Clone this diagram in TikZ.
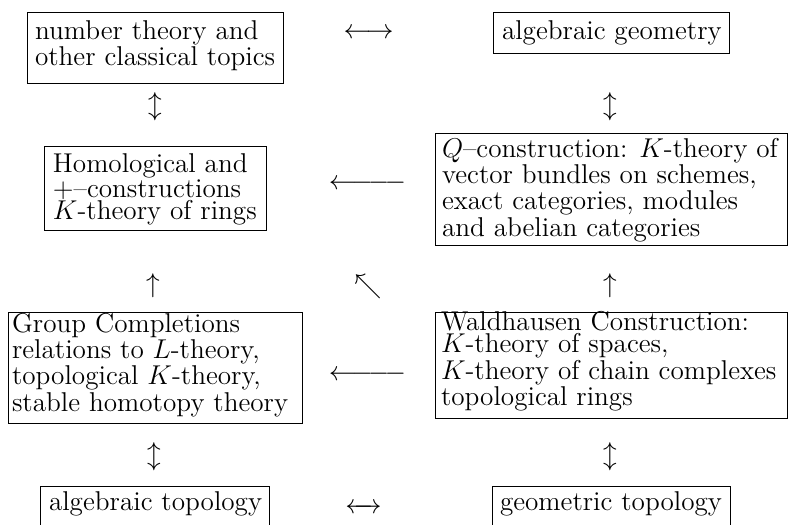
\RequirePackage{fix-cm}
\documentclass[tikz,border=0pt]{standalone}
\usepackage{amsmath}
\newcommand\boxtxt[2]{\parbox[t]{200pt}{\raggedright\fontsize{13.6}{#1}\selectfont #2}}
\begin{document}
\begin{tikzpicture}[x=0.5pt,y=-0.5pt,
  font=\fontsize{13.6}{12}\selectfont,
  box/.style={draw, line width=0.5pt, anchor=north west, inner sep=0pt, outer sep=0pt},
  txt/.style={anchor=base west, inner sep=0pt, outer sep=0pt},
  glyph/.style={anchor=base, inner sep=0pt, outer sep=0pt}]
\fill[white] (0,0) rectangle (789,525);
\clip (0,0) rectangle (789,525);
% boxes
\node[box, minimum width=128pt, minimum height=35.5pt] (b1) at (27,12) {};
\node[box, minimum width=118pt, minimum height=20.5pt] (b2) at (493,12) {};
\node[box, minimum width=111pt, minimum height=42pt] (b3) at (44,146) {};
\node[box, minimum width=176pt, minimum height=56pt] (b4) at (435,133) {};
\node[box, minimum width=147pt, minimum height=55.5pt] (b5) at (8,312) {};
\node[box, minimum width=176pt, minimum height=53pt] (b6) at (435,312) {};
\node[box, minimum width=114.5pt, minimum height=30pt] (b7) at (40,486) {};
\node[box, minimum width=119pt, minimum height=30pt] (b8) at (492,486) {};
% texts
\node[txt] (t1) at (35,39) {\boxtxt{12pt}{number theory and\\other classical topics}};
\node[txt] (t2) at (502,39) {\boxtxt{12pt}{algebraic geometry}};
\node[txt] (t3) at (53,172) {\boxtxt{11.25pt}{Homological and\\$+$--constructions\\$K$-theory of rings}};
\node[txt] (t4) at (442,157) {\boxtxt{11.85pt}{$Q$--construction: $K$-theory of\\vector bundles on schemes,\\exact categories, modules\\and abelian categories}};
\node[txt] (t5) at (12,332) {\boxtxt{11.15pt}{Group Completions\\relations to $L$-theory,\\topological $K$-theory,\\stable homotopy theory}};
\node[txt] (t6) at (441,330) {\boxtxt{11.15pt}{Waldhausen Construction:\\$K$-theory of spaces,\\$K$-theory of chain complexes\\topological rings}};
\node[txt] (t7) at (49,510) {\boxtxt{12pt}{algebraic topology}};
\node[txt] (t8) at (500,510) {\boxtxt{12pt}{geometric topology}};
% arrow glyphs
\node[glyph] (a12) at (368.5,38.6) {$\longleftrightarrow$};
\node[glyph] (a13) at (155,113.6) {$\updownarrow$};
\node[glyph] (a24) at (610,113.6) {$\updownarrow$};
\node[glyph] (a43) at (367.5,189.6) {$\leftarrow\joinrel\relbar\joinrel\relbar\joinrel\relbar$};
\node[glyph] (a53) at (153,292) {$\uparrow$};
\node[glyph] (a63) at (368,293) {$\nwarrow$};
\node[glyph] (a64) at (610,292) {$\uparrow$};
\node[glyph] (a65) at (367.5,380.6) {$\leftarrow\joinrel\relbar\joinrel\relbar\joinrel\relbar$};
\node[glyph] (a57) at (154,463.6) {$\updownarrow$};
\node[glyph] (a68) at (610,463.6) {$\updownarrow$};
\node[glyph] (a78) at (363.5,513.6) {$\leftarrow\mathrel{\mkern-12mu}\rightarrow$};
\end{tikzpicture}
\end{document}
